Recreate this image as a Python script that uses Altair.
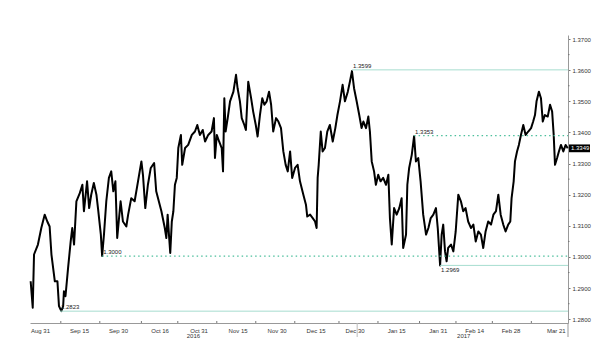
import altair as alt
import pandas as pd

# ---- data (days since 2016-08-31, price) ----
day_offset = [
    -3.6, -2.8, -2.3, -0.8, 0.5, 1.8, 2.8, 3.7, 4.4, 5.7, 6.7, 7.3, 8.2, 8.9, 9.2, 9.8,
    10.8, 11.8, 12.4, 13.1, 14.0, 15.3, 16.3, 16.9, 18.1, 18.9, 19.7, 20.7, 21.7, 22.3,
    23.4, 23.9, 24.6, 25.5, 26.5, 27.4, 28.2, 29.0, 29.7, 31.0, 31.9, 33.2, 33.9, 35.1,
    36.4, 37.7, 39.0, 39.6, 40.5, 41.5, 42.6, 43.9, 44.7, 46.7, 48.0, 48.6, 49.1, 49.6,
    50.1, 50.7, 51.3, 51.9, 52.6, 53.2, 54.2, 54.7, 55.8, 57.0, 58.4, 59.6, 60.5, 61.5,
    62.6, 63.5, 64.7, 66.0, 66.9, 67.3, 68.0, 68.9, 69.9, 70.4, 70.9, 71.4, 72.2, 73.1,
    74.4, 75.4, 76.0, 76.9, 77.6, 78.6, 79.2, 80.1, 81.2, 82.0, 83.0, 83.7, 84.6, 85.5,
    86.3, 87.2, 88.1, 88.9, 89.7, 90.8, 91.7, 92.7, 93.6, 94.5, 95.3, 96.2, 97.0, 98.1,
    99.1, 100.0, 101.3, 102.3, 102.8, 103.9, 104.9, 105.8, 106.4, 106.8, 107.2, 108.0,
    108.7, 109.6, 110.5, 111.5, 112.6, 113.6, 114.4, 115.4, 116.4, 117.3, 118.4, 119.2,
    120.0, 120.8, 121.8, 122.8, 123.7, 124.4, 125.4, 126.3, 126.9, 127.6, 128.5, 129.2,
    130.1, 131.0, 132.0, 133.1, 134.0, 134.6, 135.3, 136.2, 137.2, 138.2, 139.1, 139.7,
    140.8, 141.3, 142.0, 143.0, 143.9, 144.6, 145.5, 146.4, 147.4, 148.5, 149.4, 150.3,
    151.3, 152.3, 153.0, 153.9, 154.5, 155.1, 155.8, 156.4, 157.0, 158.1, 159.0, 159.9,
    160.9, 161.9, 162.8, 163.7, 164.7, 165.8, 166.7, 167.6, 168.6, 169.6, 170.5, 171.4,
    172.4, 173.5, 174.4, 175.4, 176.3, 177.2, 178.2, 179.1, 180.1, 180.9, 181.4, 182.2,
    182.7, 183.5, 184.2, 185.0, 185.9, 186.8, 187.8, 188.9, 189.7, 190.4, 191.0, 191.9,
    192.7, 193.4, 194.2, 195.3, 196.2, 197.0, 197.6, 198.1, 198.9, 199.6, 200.4, 201.3,
    202.2, 203.0,
]
price = [
    1.2922, 1.2837, 1.3008, 1.3040, 1.3093, 1.3136, 1.3114, 1.3098, 1.3008, 1.2922, 1.2922, 1.2842, 1.2826, 1.2842, 1.2890, 1.2874,
    1.2965, 1.3050, 1.3093, 1.3040, 1.3179, 1.3205, 1.3232, 1.3147, 1.3243, 1.3157, 1.3200, 1.3238, 1.3200, 1.3157,
    1.3072, 1.3003, 1.3072, 1.3179, 1.3254, 1.3275, 1.3211, 1.3243, 1.3061, 1.3179, 1.3114, 1.3098, 1.3136, 1.3189,
    1.3179, 1.3243, 1.3307, 1.3264, 1.3157, 1.3232, 1.3286, 1.3302, 1.3211, 1.3147, 1.3093, 1.3061, 1.3136, 1.3072,
    1.3013, 1.3114, 1.3147, 1.3232, 1.3254, 1.3350, 1.3392, 1.3296, 1.3350, 1.3360, 1.3392, 1.3403, 1.3424, 1.3392,
    1.3408, 1.3371, 1.3392, 1.3403, 1.3446, 1.3318, 1.3392, 1.3371, 1.3350, 1.3275, 1.3510, 1.3403, 1.3446, 1.3500,
    1.3531, 1.3585, 1.3542, 1.3500, 1.3446, 1.3424, 1.3408, 1.3563, 1.3510, 1.3467, 1.3424, 1.3387, 1.3456, 1.3510,
    1.3489, 1.3500, 1.3531, 1.3489, 1.3403, 1.3446, 1.3435, 1.3414, 1.3339, 1.3296, 1.3275, 1.3339, 1.3254, 1.3286,
    1.3296, 1.3243, 1.3200, 1.3168, 1.3130, 1.3136, 1.3125, 1.3114, 1.3093, 1.3254, 1.3296, 1.3403,
    1.3339, 1.3350, 1.3403, 1.3424, 1.3371, 1.3414, 1.3456, 1.3500, 1.3553, 1.3500, 1.3531, 1.3563,
    1.3597, 1.3542, 1.3500, 1.3456, 1.3414, 1.3435, 1.3414, 1.3451, 1.3403, 1.3307, 1.3275, 1.3232,
    1.3264, 1.3243, 1.3254, 1.3232, 1.3264, 1.3125, 1.3040, 1.3157, 1.3136, 1.3157, 1.3189, 1.3029,
    1.3072, 1.3232, 1.3286, 1.3328, 1.3388, 1.3307, 1.3318, 1.3243, 1.3136, 1.3072, 1.3093, 1.3125,
    1.3136, 1.3157, 1.3093, 1.2973, 1.3072, 1.3104, 1.3018, 1.2986, 1.3029, 1.3040, 1.3018, 1.3082,
    1.3200, 1.3179, 1.3147, 1.3157, 1.3114, 1.3093, 1.3104, 1.3050, 1.3082, 1.3072, 1.3029, 1.3082,
    1.3114, 1.3104, 1.3136, 1.3147, 1.3200, 1.3136, 1.3104, 1.3082, 1.3104, 1.3114, 1.3189, 1.3243,
    1.3307, 1.3339, 1.3360, 1.3392, 1.3424, 1.3392, 1.3403, 1.3414, 1.3435, 1.3456, 1.3500, 1.3531,
    1.3510, 1.3435, 1.3456, 1.3451, 1.3489, 1.3467, 1.3392, 1.3296, 1.3318, 1.3339, 1.3360, 1.3339,
    1.3360, 1.3349,
]

# horizontal reference levels: start (days since Aug 31), drawn level, label, style
level_start = [120.0, 143.9, 23.9, 153.9, 7.7]
level_value = [1.3601, 1.3390, 1.3003, 1.2973, 1.2826]
level_label = ["1.3599", "1.3353", "1.3000", "1.2969", "1.2823"]
level_dotted = [False, True, True, False, False]
level_label_below = [False, False, False, True, False]

last_value = 1.3349
last_label = "1.3349"

tick_dates = ["2016-08-31", "2016-09-15", "2016-09-30", "2016-10-16", "2016-10-31",
              "2016-11-15", "2016-11-30", "2016-12-15", "2016-12-30", "2017-01-15",
              "2017-01-31", "2017-02-14", "2017-02-28", "2017-03-21"]
minor_tick_dates = ["2016-09-08", "2016-09-23", "2016-10-09", "2016-10-23", "2016-11-07",
                    "2016-11-22", "2016-12-07", "2016-12-24", "2017-01-08", "2017-01-24",
                    "2017-02-07", "2017-02-21", "2017-03-08"]
year_labels = ["2016", "2017"]
year_label_dates = ["2016-10-29", "2017-02-10"]
year_sep_date = "2016-12-31"

y_major = [1.28, 1.29, 1.30, 1.31, 1.32, 1.33, 1.34, 1.35, 1.36, 1.37]
y_minor = [1.285, 1.295, 1.305, 1.315, 1.325, 1.335, 1.345, 1.355, 1.365]

# ---- build tables ----
start = pd.Timestamp("2016-08-31")
df = pd.DataFrame({"t": start + pd.to_timedelta(day_offset, unit="D"), "p": price})
x_min = start - pd.Timedelta(days=3.85)
x_max = start + pd.Timedelta(days=203.1)

lv = pd.DataFrame({
    "t": start + pd.to_timedelta(level_start, unit="D"),
    "t2": [x_max] * len(level_start),
    "p": level_value,
    "label": level_label,
    "dotted": level_dotted,
    "below": level_label_below,
})

W, H = 538, 288
FONT = "Liberation Sans"
xs = alt.Scale(domain=[x_min.isoformat(), x_max.isoformat()], nice=False)
ys = alt.Scale(domain=[1.2788, 1.3713], nice=False, zero=False)

def dt(s):
    ts = pd.Timestamp(s)
    return alt.DateTime(year=ts.year, month=ts.month, date=ts.day)

XN = dict(axis=None)

line = alt.Chart(df).mark_line(color="black", strokeWidth=2.0, strokeJoin="round").encode(
    x=alt.X("t:T", scale=xs, axis=alt.Axis(
        title=None, values=[dt(s) for s in tick_dates], format="%b %d", grid=False,
        ticks=False, labelFont=FONT, labelFontSize=6, labelColor="#333",
        domainColor="#999", labelPadding=4, labelFlush=6, labelOverlap=False)),
    y=alt.Y("p:Q", scale=ys, axis=alt.Axis(
        title=None, orient="right", values=y_major, format=".4f", grid=False,
        tickSize=2, tickColor="#777", labelFont=FONT, labelFontSize=6, labelColor="#333",
        domainColor="#999", labelPadding=2, labelOverlap=False)),
)

solid = alt.Chart(lv[~lv["dotted"]]).mark_rule(color="#a6ddcf", strokeWidth=1).encode(
    x=alt.X("t:T", **XN), x2="t2:T", y=alt.Y("p:Q", **XN))
dotted = alt.Chart(lv[lv["dotted"]]).mark_rule(color="#4cbf9c", strokeWidth=1.2,
                                               strokeDash=[1.5, 3]).encode(
    x=alt.X("t:T", **XN), x2="t2:T", y=alt.Y("p:Q", **XN))

lab_above = alt.Chart(lv[~lv["below"]]).mark_text(
    align="left", baseline="bottom", dx=1, dy=-1, font=FONT, fontSize=6, color="#222").encode(
    x=alt.X("t:T", **XN), y=alt.Y("p:Q", **XN), text="label:N")
lab_below = alt.Chart(lv[lv["below"]]).mark_text(
    align="left", baseline="top", dx=1, dy=2, font=FONT, fontSize=6, color="#222").encode(
    x=alt.X("t:T", **XN), y=alt.Y("p:Q", **XN), text="label:N")

half = 0.00125
box_df = pd.DataFrame({"p": [last_value], "lo": [last_value - half], "hi": [last_value + half],
                       "label": [last_label]})
box = alt.Chart(box_df).mark_rect(color="black").encode(
    x=alt.value(W + 1), x2=alt.value(W + 22), y=alt.Y("hi:Q", **XN), y2="lo:Q")
box_text = alt.Chart(box_df).mark_text(align="left", baseline="middle", dx=0, font=FONT,
                                       fontSize=6, color="white").encode(
    x=alt.value(W + 3), y=alt.Y("p:Q", **XN), text="label:N")

yminor = alt.Chart(pd.DataFrame({"p": y_minor})).mark_rule(color="#777").encode(
    x=alt.value(W), x2=alt.value(W + 1.5), y=alt.Y("p:Q", **XN))
xminor = alt.Chart(pd.DataFrame({"t": pd.to_datetime(minor_tick_dates)})).mark_rule(
    color="#777").encode(x=alt.X("t:T", **XN), y=alt.value(H - 2), y2=alt.value(H))

sep = alt.Chart(pd.DataFrame({"t": [pd.Timestamp(year_sep_date)]})).mark_rule(
    color="#bbb").encode(x=alt.X("t:T", **XN), y=alt.value(H), y2=alt.value(H + 14))
corner = alt.Chart(pd.DataFrame({"a": [0]})).mark_rule(color="#999").encode(
    x=alt.value(W), y=alt.value(H), y2=alt.value(H + 14))

years = alt.Chart(pd.DataFrame({"t": pd.to_datetime(year_label_dates), "y": year_labels})).mark_text(
    font=FONT, fontSize=6, color="#333", baseline="top").encode(
    x=alt.X("t:T", **XN), y=alt.value(H + 10), text="y:N")

chart = alt.layer(
    line, solid, dotted, lab_above, lab_below, yminor, xminor, sep, corner, years, box, box_text
).resolve_axis(x="independent", y="independent").properties(
    width=W, height=H,
    autosize=alt.AutoSizeParams(type="none"),
    padding={"left": 30, "top": 35, "right": 32, "bottom": 18},
).configure(background="white", view=alt.ViewConfig(stroke=None))

chart.save("out.html", embed_options={"renderer": "svg", "actions": False})
